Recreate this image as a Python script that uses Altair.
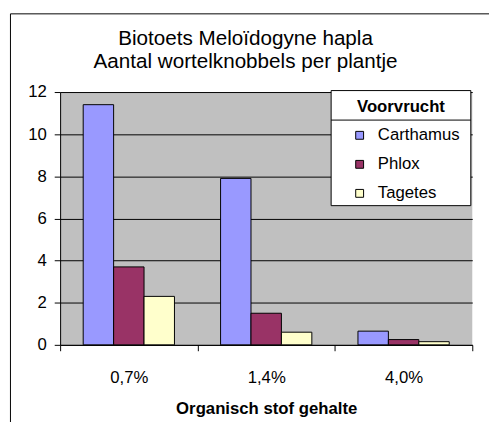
import altair as alt
import pandas as pd

categories = ["0,7%", "1,4%", "4,0%"]
series = ["Carthamus", "Phlox", "Tagetes"]
carthamus = [11.4, 7.9, 0.65]
phlox = [3.7, 1.5, 0.25]
tagetes = [2.3, 0.6, 0.15]
colors = ["#9999FF", "#993366", "#FFFFCC"]
y_ticks = [0, 2, 4, 6, 8, 10, 12]
title_lines = ["Biotoets Meloïdogyne hapla", "Aantal wortelknobbels per plantje"]
x_title = "Organisch stof gehalte"
legend_title = "Voorvrucht"

rows = []
for name, vals in zip(series, [carthamus, phlox, tagetes]):
    for c, v in zip(categories, vals):
        rows.append({"cat": c, "series": name, "value": v})
df = pd.DataFrame(rows)

W, H = 419, 257
FONT = "Liberation Sans"

bars = alt.Chart(df).mark_bar(stroke="black", strokeWidth=1).encode(
    x=alt.X("cat:N", sort=categories,
            scale=alt.Scale(paddingInner=0, paddingOuter=0),
            axis=alt.Axis(title=x_title, labelAngle=0, tickBand="extent", tickSize=6,
                          labelPadding=19, titlePadding=16, grid=False)),
    xOffset=alt.XOffset("series:N", sort=series,
                        scale=alt.Scale(paddingInner=0, paddingOuter=0.758)),
    y=alt.Y("value:Q", scale=alt.Scale(domain=[0, 12], nice=False),
            axis=alt.Axis(values=y_ticks, title=None, tickSize=6, labelPadding=8,
                          grid=True, gridColor="black", gridWidth=1)),
    color=alt.Color("series:N", sort=series,
                    scale=alt.Scale(domain=series, range=colors),
                    legend=alt.Legend(orient="none", legendX=296, legendY=35.5, title=None,
                                      symbolType="square", symbolSize=64,
                                      symbolStrokeColor="black", symbolStrokeWidth=1,
                                      labelFont=FONT, labelFontSize=17, labelColor="black",
                                      rowPadding=11.5, labelOffset=10, padding=0)),
)

one = alt.Data(values=[{"t": legend_title}])

frame = alt.Chart(one).mark_rect(fillOpacity=0, stroke="black", strokeWidth=1).encode(
    x=alt.value(-50.5), x2=alt.value(480), y=alt.value(-79.5), y2=alt.value(400)
)

legend_box = alt.Chart(one).mark_rect(fill="white", stroke="black", strokeWidth=1).encode(
    x=alt.value(275.5), x2=alt.value(417.5), y=alt.value(-1.5), y2=alt.value(115.5)
)
legend_sep = alt.Chart(one).mark_rule(stroke="black", strokeWidth=1).encode(
    x=alt.value(275.5), x2=alt.value(417.5), y=alt.value(28.5)
)
legend_head = alt.Chart(one).mark_text(font=FONT, fontSize=17, fontWeight="bold",
                                       color="black", align="center", baseline="middle").encode(
    x=alt.value(346.5), y=alt.value(15), text="t:N"
)

chart = alt.layer(frame, bars, legend_box, legend_sep, legend_head).properties(
    width=W, height=H,
    title=alt.TitleParams(text=title_lines, font=FONT, fontSize=21, fontWeight="normal",
                          color="black", anchor="middle", dx=-21, offset=-60, lineHeight=24),
    autosize=alt.AutoSizeParams(type="none"),
    padding={"left": 53, "top": 82, "right": 17, "bottom": 75},
    background="white",
).configure_view(
    fill="#C0C0C0", strokeWidth=0
).configure_axis(
    labelFont=FONT, labelFontSize=17, labelColor="black",
    titleFont=FONT, titleFontSize=17, titleFontWeight="bold", titleColor="black",
    domainColor="black", tickColor="black"
)

chart.save("out.html", embed_options={"renderer": "svg", "actions": False})
